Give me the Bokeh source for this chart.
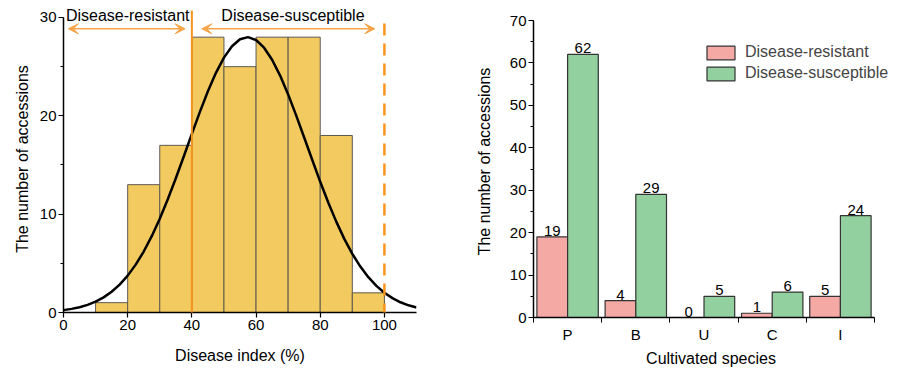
from bokeh.plotting import figure
from bokeh.models import (Arrow, VeeHead, Label, SingleIntervalTicker, FixedTicker,
                          Legend, LegendItem, ColumnDataSource, Range1d)
from bokeh.core.properties import value
from bokeh.transform import dodge
from bokeh.layouts import row
from bokeh.embed import file_html
from bokeh.resources import INLINE

FONT = "Liberation Sans"

# ---------------- left panel data ----------------
bin_left = [10, 20, 30, 40, 50, 60, 70, 80, 90]
bin_right = [20, 30, 40, 50, 60, 70, 80, 90, 100]
bin_counts = [1, 13, 17, 28, 25, 28, 28, 18, 2]

# normal fit curve, values every 2.5 units
curve_x = [0, 2.5, 5, 7.5, 10, 12.5, 15, 17.5, 20, 22.5, 25, 27.5, 30, 32.5, 35, 37.5,
           40, 42.5, 45, 47.5, 50, 52.5, 55, 57.5, 60, 62.5, 65, 67.5, 70, 72.5, 75,
           77.5, 80, 82.5, 85, 87.5, 90, 92.5, 95, 97.5, 100, 102.5, 105, 107.5, 110]
curve_y = [0.24, 0.37, 0.54, 0.78, 1.10, 1.54, 2.11, 2.84, 3.75, 4.87, 6.20, 7.76, 9.53,
           11.51, 13.65, 15.89, 18.17, 20.40, 22.50, 24.37, 25.92, 27.08, 27.79, 28.00,
           27.71, 26.93, 25.70, 24.09, 22.18, 20.05, 17.80, 15.53, 13.29, 11.18, 9.24,
           7.49, 5.97, 4.67, 3.59, 2.71, 2.01, 1.46, 1.04, 0.73, 0.51]

threshold = 40
upper_limit = 100
group_labels = ["Disease-resistant", "Disease-susceptible"]

# ---------------- right panel data ----------------
species = ["P", "B", "U", "C", "I"]
resistant = [19, 4, 0, 1, 5]
susceptible = [62, 29, 5, 6, 24]

ORANGE = "#F7941D"
ARROW_C = "#F5A447"
HIST_FILL = "#F2CA60"
PINK = "#F5A9A5"
GREEN = "#92D09F"


def style_axes(p):
    for ax in (p.xaxis[0], p.yaxis[0]):
        ax.axis_line_color = "black"
        ax.axis_line_width = 1.5
        ax.major_tick_line_color = "black"
        ax.minor_tick_line_color = "black"
        ax.major_tick_line_width = 1.2
        ax.minor_tick_line_width = 1.0
        ax.major_tick_in = 0
        ax.minor_tick_in = 0
        ax.major_tick_out = 5
        ax.minor_tick_out = 3
        ax.major_label_text_font = FONT
        ax.major_label_text_font_size = "15px"
        ax.major_label_text_color = "black"
        ax.axis_label_text_font = FONT
        ax.axis_label_text_font_size = "16px"
        ax.axis_label_text_font_style = "normal"
        ax.axis_label_text_color = "black"
        ax.major_label_standoff = 2
    p.xgrid.visible = False
    p.ygrid.visible = False
    p.outline_line_color = None
    p.background_fill_color = None
    p.border_fill_color = None


# ================= left figure =================
# frame extends a little above the 30 mark so the top labels are not cut
p1 = figure(frame_width=353, frame_height=307, output_backend="svg", toolbar_location=None,
            x_range=Range1d(0, 110), y_range=Range1d(0, 31.22),
            min_border_left=63, min_border_right=32, min_border_top=5, min_border_bottom=55)
style_axes(p1)
p1.yaxis.bounds = (0, 30)
p1.xaxis.ticker = SingleIntervalTicker(interval=20, num_minor_ticks=2)
p1.xaxis.minor_tick_out = 0
p1.yaxis.ticker = SingleIntervalTicker(interval=10, num_minor_ticks=2)
p1.xaxis.axis_label = "Disease index (%)"
p1.yaxis.axis_label = "The number of accessions"
p1.xaxis.axis_label_standoff = 14
p1.yaxis.axis_label_standoff = 6

hsrc = ColumnDataSource(dict(left=bin_left, right=bin_right, top=bin_counts,
                             bottom=[0] * len(bin_counts)))
p1.quad(left="left", right="right", top="top", bottom="bottom", source=hsrc,
        fill_color=HIST_FILL, line_color="#5f5a50", line_width=1)

p1.line(curve_x, curve_y, line_color="black", line_width=2.5)

# threshold lines (annotations, extending past the axis like the original)
p1.add_layout(Arrow(start=None, end=None, x_start=threshold, y_start=-2.34,
                    x_end=threshold, y_end=30.71, line_color=ORANGE, line_width=2))
p1.add_layout(Arrow(start=None, end=None, x_start=upper_limit, y_start=-2.34,
                    x_end=upper_limit, y_end=30.2, line_color=ORANGE, line_width=2.5,
                    line_dash="12 8"))

# double-headed range arrows
for xs, xe in ((1.5, 37.9), (43.1, 97.0)):
    p1.add_layout(Arrow(start=VeeHead(size=10, fill_color=ARROW_C, line_color=ARROW_C),
                        end=VeeHead(size=10, fill_color=ARROW_C, line_color=ARROW_C),
                        x_start=xs, y_start=28.85, x_end=xe, y_end=28.85,
                        line_color=ARROW_C, line_width=1.5))

p1.add_layout(Label(x=20, y=30.25, text=group_labels[0], text_font=FONT,
                    text_font_size="16px", text_align="center", text_baseline="middle",
                    text_color="black"))
p1.add_layout(Label(x=71.5, y=30.25, text=group_labels[1], text_font=FONT,
                    text_font_size="16px", text_align="center", text_baseline="middle",
                    text_color="black"))

# ================= right figure =================
pos = list(range(len(species)))
boundaries = [i - 0.5 for i in range(len(species) + 1)]

# frame top aligned with the left one; axis line drawn only up to 70
p2 = figure(frame_width=355, frame_height=312, output_backend="svg", toolbar_location=None,
            x_range=Range1d(-0.5, len(species) - 0.295), y_range=Range1d(0, 73.54),
            min_border_left=85, min_border_right=5, min_border_top=5, min_border_bottom=50)
style_axes(p2)
p2.xaxis.bounds = (-0.5, len(species) - 0.5)
p2.yaxis.bounds = (0, 70)
p2.xaxis.ticker = FixedTicker(ticks=pos, minor_ticks=boundaries)
p2.xaxis.major_label_overrides = {i: s for i, s in zip(pos, species)}
p2.xaxis.major_tick_out = 0
p2.xaxis.minor_tick_out = 5
p2.xaxis.major_label_standoff = 3
p2.yaxis.ticker = SingleIntervalTicker(interval=10, num_minor_ticks=2)
p2.xaxis.axis_label = "Cultivated species"
p2.yaxis.axis_label = "The number of accessions"
p2.xaxis.axis_label_standoff = 4
p2.yaxis.axis_label_standoff = 14

bsrc = ColumnDataSource(dict(x=pos, res=resistant, sus=susceptible,
                             res_t=[str(v) for v in resistant],
                             sus_t=[str(v) for v in susceptible]))
r1 = p2.vbar(x=dodge("x", -0.225, range=p2.x_range), top="res", width=0.45, source=bsrc,
             fill_color=PINK, line_color="#333333", line_width=1.2)
r2 = p2.vbar(x=dodge("x", 0.225, range=p2.x_range), top="sus", width=0.45, source=bsrc,
             fill_color=GREEN, line_color="#333333", line_width=1.2)
p2.text(x=dodge("x", -0.225, range=p2.x_range), y="res", text="res_t", source=bsrc,
        text_font=value(FONT), text_font_size=value("15px"), text_align="center",
        text_baseline="bottom", y_offset=-1, text_color="black")
p2.text(x=dodge("x", 0.225, range=p2.x_range), y="sus", text="sus_t", source=bsrc,
        text_font=value(FONT), text_font_size=value("15px"), text_align="center",
        text_baseline="bottom", y_offset=-1, text_color="black")

legend = Legend(items=[LegendItem(label=group_labels[0], renderers=[r1]),
                       LegendItem(label=group_labels[1], renderers=[r2])],
                location=(170, 235), glyph_width=35, glyph_height=17, label_height=17,
                spacing=3, padding=0, margin=0, label_standoff=7,
                label_text_font=FONT, label_text_font_size="16px",
                border_line_color=None, background_fill_alpha=0)
p2.add_layout(legend)

layout = row(p1, p2)
open("out.html", "w").write(file_html(layout, INLINE))
